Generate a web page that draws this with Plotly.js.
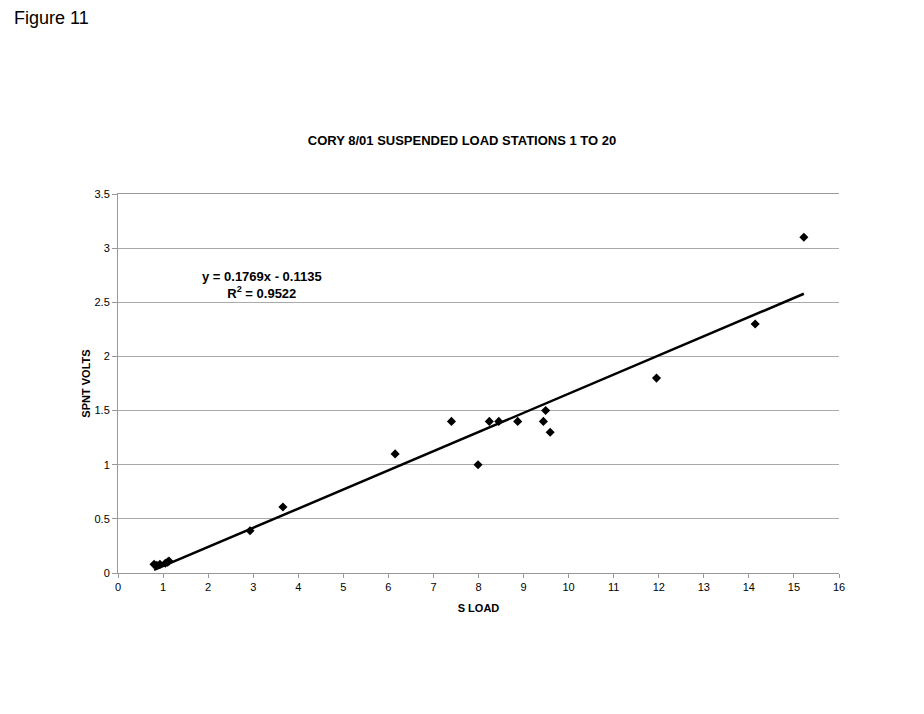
<!DOCTYPE html>
<html>
<head>
<meta charset="utf-8">
<script src="https://cdn.plot.ly/plotly-3.0.1.min.js"></script>
<style>
html,body{margin:0;padding:0;background:#fff;}
#chart{width:924px;height:714px;}
</style>
</head>
<body>
<div id="chart"></div>
<script>
// Data
const sLoad = [0.80, 0.86, 0.93, 1.05, 1.10, 1.13, 2.93, 3.66, 6.15, 7.40, 7.99, 8.24, 8.45, 8.87, 9.44, 9.49, 9.59, 11.95, 14.14, 15.22];
const spntVolts = [0.08, 0.07, 0.08, 0.09, 0.10, 0.11, 0.39, 0.61, 1.10, 1.40, 1.00, 1.40, 1.40, 1.40, 1.40, 1.50, 1.30, 1.80, 2.30, 3.10];
const slope = 0.1769;
const intercept = -0.1135;
const rSquared = 0.9522;
const xTicks = [0,1,2,3,4,5,6,7,8,9,10,11,12,13,14,15,16];
const yTicks = [0,0.5,1,1.5,2,2.5,3,3.5];

const xMin = Math.min(...sLoad), xMax = Math.max(...sLoad);
const trendX = [xMin, xMax];
const trendY = trendX.map(v => slope * v + intercept);

const data = [
  {
    x: sLoad, y: spntVolts, type: 'scatter', mode: 'markers',
    marker: {symbol: 'diamond', size: 7, color: '#000'},
    hoverinfo: 'x+y', showlegend: false
  },
  {
    x: trendX, y: trendY, type: 'scatter', mode: 'lines',
    line: {color: '#000', width: 2.5},
    showlegend: false
  }
];

const layout = {
  width: 924, height: 714,
  paper_bgcolor: '#fff', plot_bgcolor: '#fff',
  margin: {l: 118, r: 85, t: 194, b: 141},
  font: {family: 'Arial, Liberation Sans, sans-serif', color: '#000', size: 11},
  title: {
    text: '<b>CORY 8/01 SUSPENDED LOAD STATIONS 1 TO 20</b>',
    font: {size: 13, family: 'Arial, Liberation Sans, sans-serif', color: '#000'},
    xref: 'container', x: 0.5, xanchor: 'center',
    yref: 'container', y: 1 - 140/714, yanchor: 'middle'
  },
  xaxis: {
    range: [0, 16], tickvals: xTicks, ticktext: xTicks.map(String),
    showgrid: false, zeroline: false,
    showline: true, linecolor: '#999', linewidth: 1, mirror: true,
    ticks: 'outside', ticklen: 4, tickcolor: '#999',
    tickfont: {size: 11},
    title: {text: '<b>S LOAD</b>', font: {size: 11}, standoff: 12}
  },
  yaxis: {
    range: [0, 3.5], tickvals: yTicks, ticktext: yTicks.map(String),
    showgrid: true, gridcolor: '#aaa', gridwidth: 1,
    zeroline: false,
    showline: true, linecolor: '#999', linewidth: 1,
    ticks: 'outside', ticklen: 5, tickcolor: '#999',
    tickfont: {size: 11},
    title: {text: '<b>SPNT VOLTS</b>', font: {size: 11}, standoff: 1}
  },
  annotations: [
    {
      text: '<b>y = ' + slope + 'x - ' + Math.abs(intercept) + '</b><br><b>R<sup>2</sup> = ' + rSquared + '</b>',
      xref: 'x', yref: 'y', x: 3.2, y: 2.66,
      showarrow: false, font: {size: 13, color: '#000'}, align: 'center'
    },
    {
      text: 'Figure 11', xref: 'paper', yref: 'paper',
      x: (12 - 118)/721, y: 1 + (194 - 18)/379, xanchor: 'left', yanchor: 'middle',
      showarrow: false, font: {size: 18, color: '#000'}
    }
  ]
};

Plotly.newPlot('chart', data, layout, {displayModeBar: false, staticPlot: true});
</script>
</body>
</html>
